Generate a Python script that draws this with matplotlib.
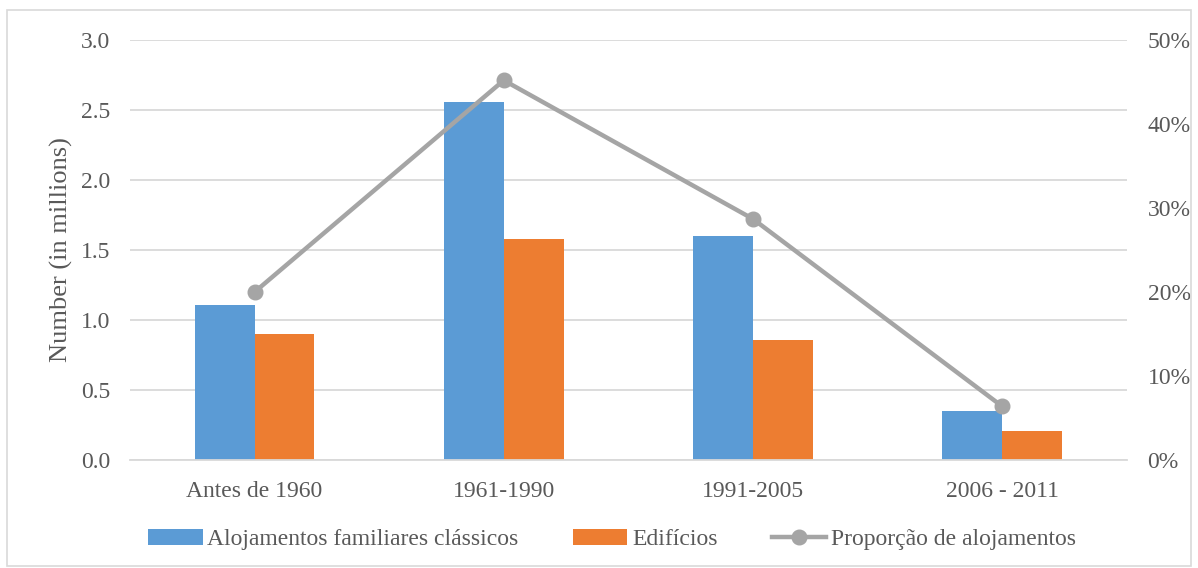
import numpy as np
import matplotlib.pyplot as plt
from matplotlib.patches import Rectangle
from matplotlib.ticker import FuncFormatter

plt.rcParams['font.family'] = ['Liberation Serif', 'DejaVu Serif']

categories = ["Antes de 1960", "1961-1990", "1991-2005", "2006 - 2011"]
alojamentos = [1.11, 2.56, 1.60, 0.35]
edificios = [0.90, 1.58, 0.86, 0.21]
proporcao = [0.20, 0.452, 0.287, 0.064]

blue = "#5b9bd5"
orange = "#ed7d31"
grey = "#a5a5a5"
text_c = "#595959"
grid_c = "#d9d9d9"

fig = plt.figure(figsize=(11.98, 5.68), dpi=100)
ax = fig.add_axes([0.1085, 0.19, 0.832, 0.7396])
ax2 = ax.twinx()

x = np.arange(len(categories))
w = 0.24
ax.bar(x - w / 2, alojamentos, w, color=blue, label="Alojamentos familiares clássicos", zorder=2)
ax.bar(x + w / 2, edificios, w, color=orange, label="Edifícios", zorder=2)
ax2.plot(x, proporcao, color=grey, lw=3.2, marker="o", ms=10.5, label="Proporção de alojamentos", zorder=3)

ax.set_xlim(-0.5, 3.5)
ax.set_ylim(0, 3.0)
ax.set_yticks(np.arange(0, 3.01, 0.5))
ax.yaxis.set_major_formatter(FuncFormatter(lambda v, p: f"{v:.1f}"))
ax2.set_ylim(0, 0.5)
ax2.set_yticks(np.arange(0, 0.51, 0.1))
ax2.yaxis.set_major_formatter(FuncFormatter(lambda v, p: f"{v*100:.0f}%"))

ax.set_xticks(x)
ax.set_xticklabels(categories)
ax.grid(axis="y", color=grid_c, lw=1.3, zorder=0)
ax.set_axisbelow(True)
for a in (ax, ax2):
    for s in a.spines.values():
        s.set_visible(False)
    a.tick_params(length=0, labelsize=17, colors=text_c)
ax.spines["bottom"].set_visible(True)
ax.spines["bottom"].set_color(grid_c)
ax.spines["bottom"].set_linewidth(1.3)
ax.tick_params(axis="y", pad=14)
ax2.tick_params(axis="y", pad=15)
ax.tick_params(axis="x", pad=15)

ax.set_ylabel("Number (in millions)", fontsize=19, color=text_c, labelpad=6)

h1, l1 = ax.get_legend_handles_labels()
h2, l2 = ax2.get_legend_handles_labels()
fig.legend(h1 + h2, l1 + l2, loc="center", bbox_to_anchor=(0.511, 0.05), ncol=3,
           frameon=False, fontsize=17, labelcolor=text_c, handlelength=2.3,
           handletextpad=0.2, columnspacing=2.3)

fig.patches.append(Rectangle((0.006, 0.003), 0.988, 0.98, transform=fig.transFigure,
                             fill=False, edgecolor=grid_c, lw=1.2))

fig.savefig("out.png", dpi=100)
